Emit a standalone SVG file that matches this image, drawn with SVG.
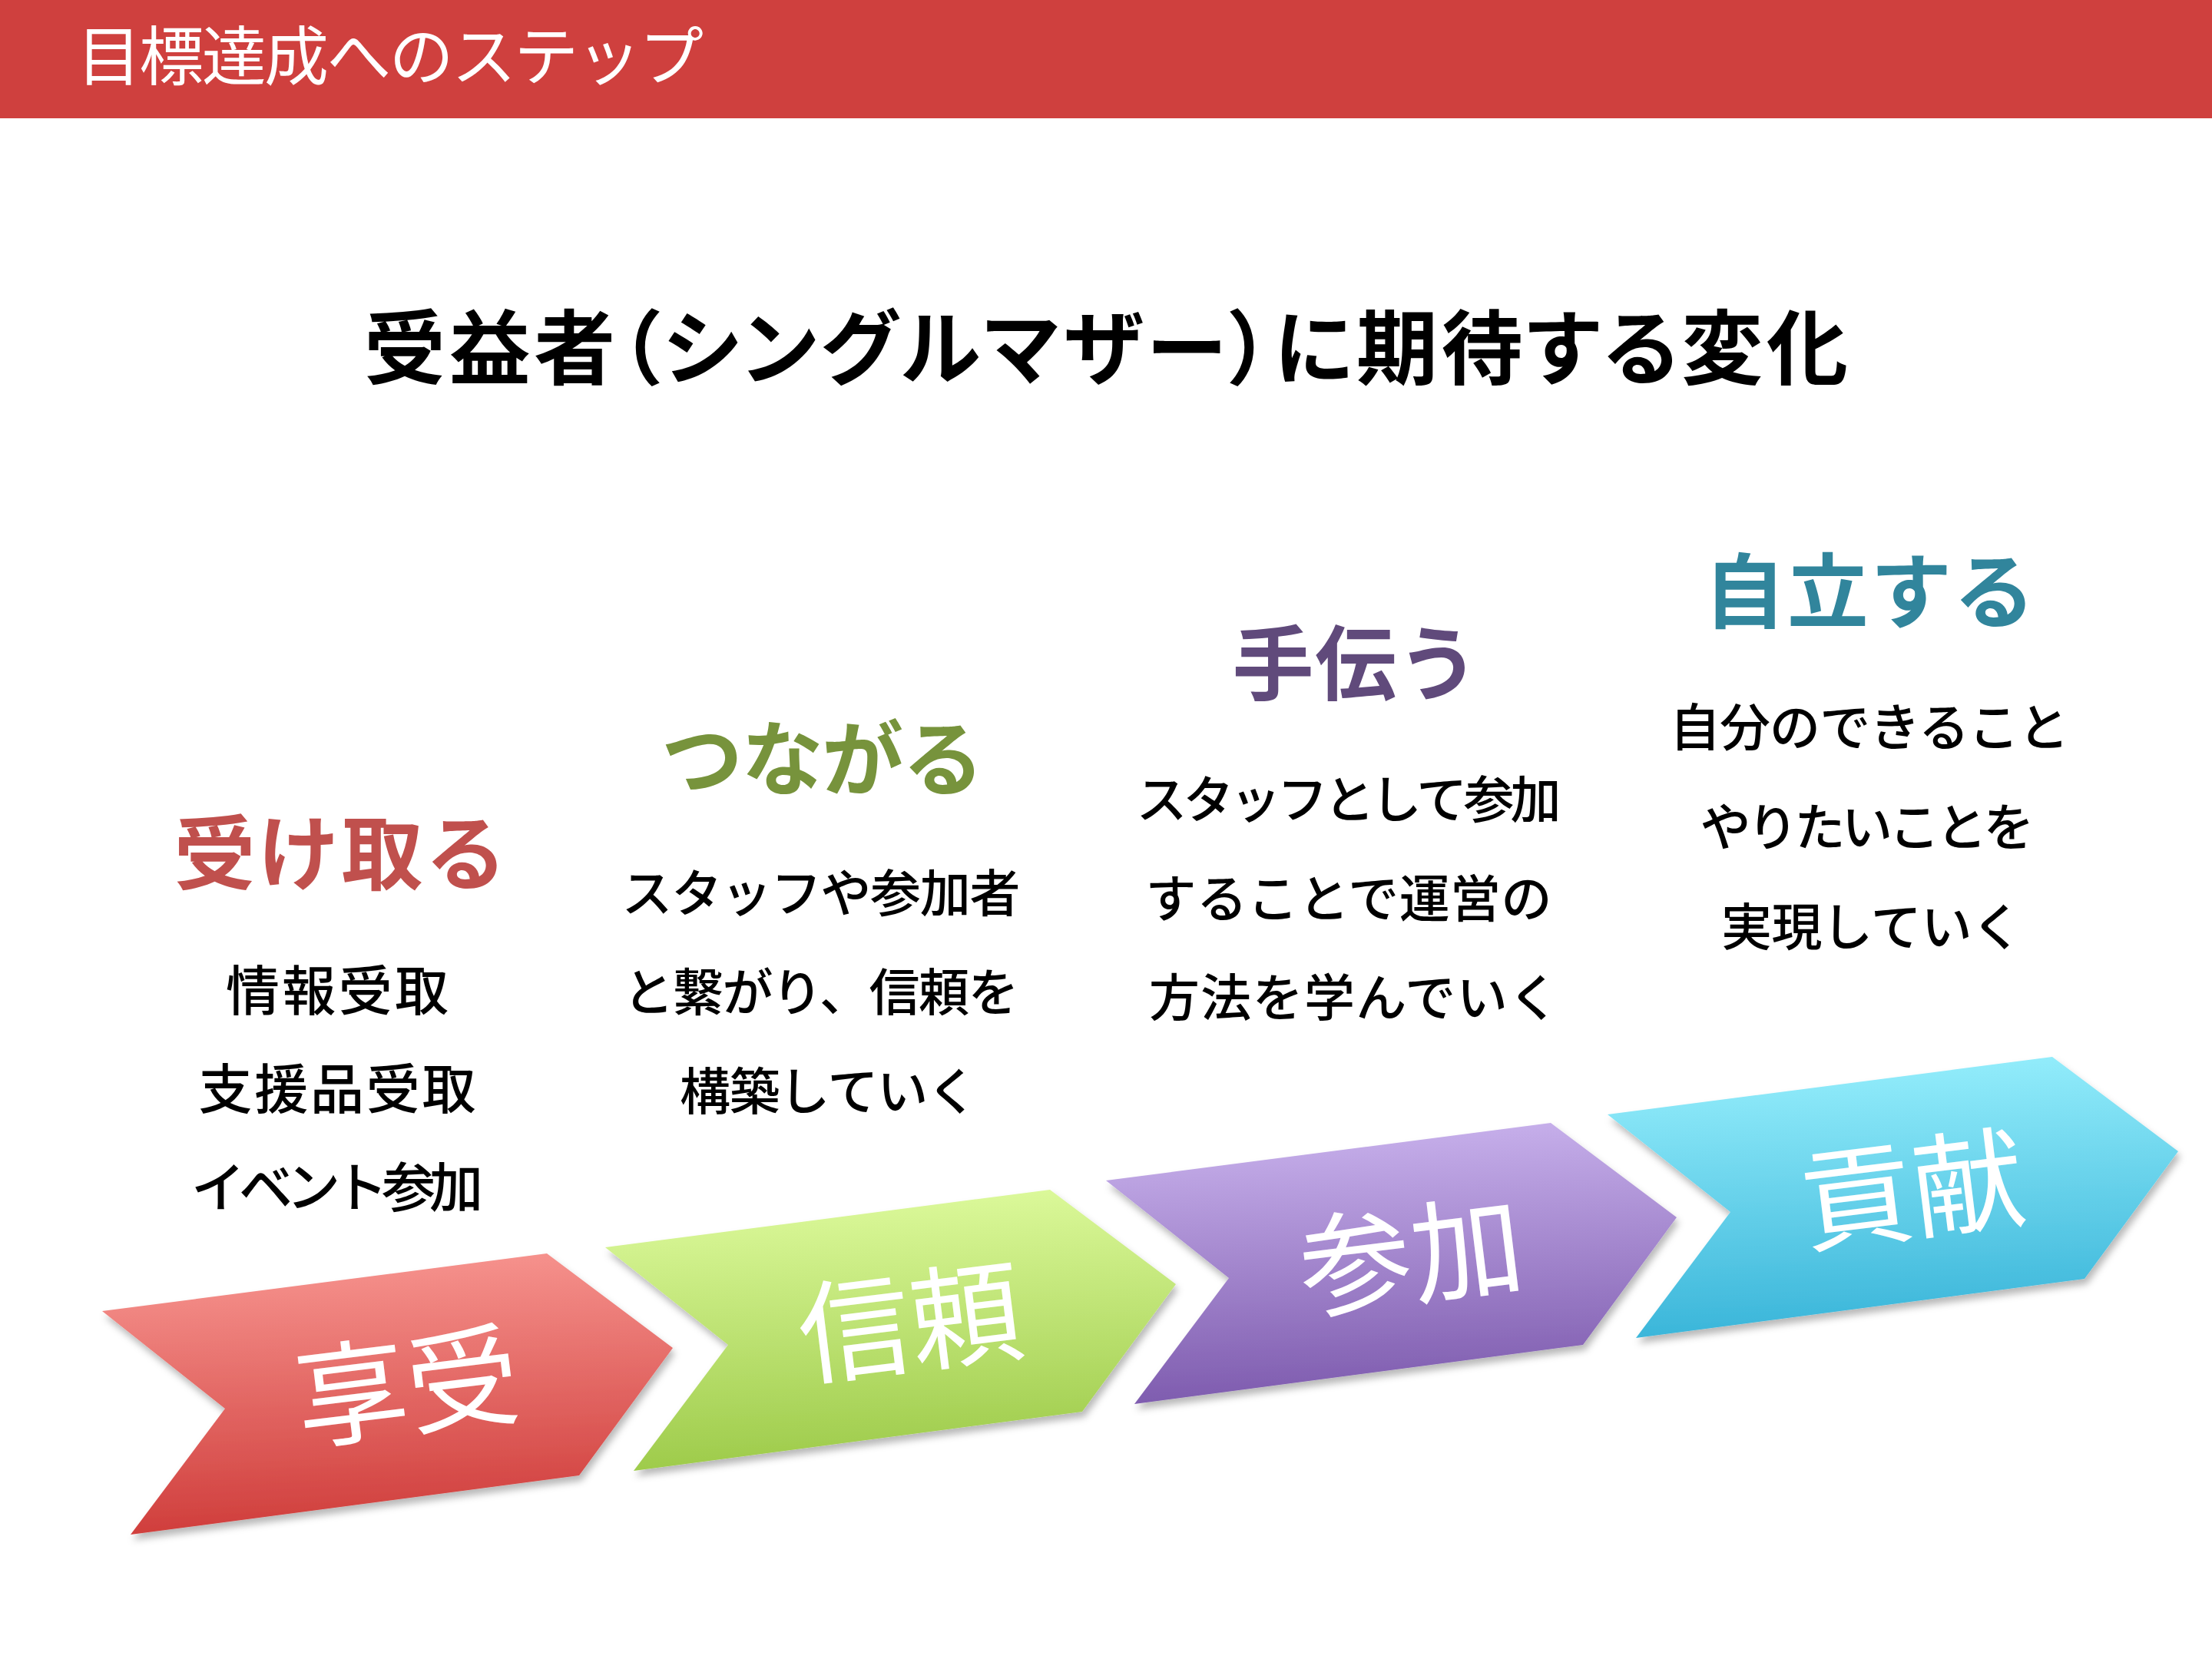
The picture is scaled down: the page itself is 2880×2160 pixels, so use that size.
<svg xmlns="http://www.w3.org/2000/svg" xmlns:xlink="http://www.w3.org/1999/xlink" width="2880" height="2160" viewBox="0 0 2880 2160">
<style>
  text { font-family: "Noto Sans CJK JP", "Noto Sans CJK SC", sans-serif; }
  .hdr { fill: #ffffff; font-size: 84px; font-weight: 400; }
  .title { fill: #000000; font-size: 106px; font-weight: 700; text-anchor: middle; font-feature-settings: "palt"; }
  .head { font-size: 106px; font-weight: 700; text-anchor: middle; }
  .body { fill: #000000; font-size: 66px; font-weight: 500; text-anchor: middle; }
  .body.k { font-size: 70px; }
  .chevtxt { fill: #ffffff; font-size: 146px; font-weight: 400; text-anchor: middle; }
</style>
<defs>
  <path id="chev" d="M0,0 L579,-75 L743,48 L621,214 L37,291 L160,127 Z"/>
  <filter id="shadow" x="-10%" y="-10%" width="120%" height="130%">
    <feDropShadow dx="3" dy="7" stdDeviation="5" flood-color="#000000" flood-opacity="0.28"/>
  </filter>
  <linearGradient id="gRed" x1="0.45" y1="0" x2="0.55" y2="1">
    <stop offset="0" stop-color="#F7948F"/>
    <stop offset="1" stop-color="#CE3A38"/>
  </linearGradient>
  <linearGradient id="gGreen" x1="0.45" y1="0" x2="0.55" y2="1">
    <stop offset="0" stop-color="#DDFA9C"/>
    <stop offset="1" stop-color="#9BC947"/>
  </linearGradient>
  <linearGradient id="gPurple" x1="0.45" y1="0" x2="0.55" y2="1">
    <stop offset="0" stop-color="#C8B1EC"/>
    <stop offset="1" stop-color="#7B58AC"/>
  </linearGradient>
  <linearGradient id="gCyan" x1="0.45" y1="0" x2="0.55" y2="1">
    <stop offset="0" stop-color="#95EEFC"/>
    <stop offset="1" stop-color="#36B3D8"/>
  </linearGradient>
</defs>
<rect x="0" y="0" width="2880" height="2160" fill="#ffffff"/>
<g id="header">
  <rect x="0" y="0" width="2880" height="154" fill="#CF403E"/>
  <text class="hdr" x="100" y="104" textLength="816" lengthAdjust="spacing">目標達成へのステップ</text>
</g>
<g id="title">
  <text class="title" x="1440" y="492" textLength="1932" lengthAdjust="spacing">受益者（シングルマザー）に期待する変化</text>
</g>
<g id="col-receive">
  <text class="head" x="443" y="1150" fill="#C0504D" textLength="433" lengthAdjust="spacing">受け取る</text>
  <text class="body k" x="439" y="1316" textLength="290" lengthAdjust="spacing">情報受取</text>
  <text class="body k" x="439" y="1444" textLength="361" lengthAdjust="spacing">支援品受取</text>
  <text class="body k" x="439" y="1572" textLength="380" lengthAdjust="spacing">イベント参加</text>
</g>
<g id="col-connect">
  <text class="head" x="1071" y="1027" fill="#77933C" textLength="420" lengthAdjust="spacing">つながる</text>
  <text class="body" x="1069" y="1187" textLength="519" lengthAdjust="spacing">スタッフや参加者</text>
  <text class="body" x="1069" y="1316" textLength="515" lengthAdjust="spacing">と繋がり、信頼を</text>
  <text class="body" x="1079" y="1445" textLength="388" lengthAdjust="spacing">構築していく</text>
</g>
<g id="col-help">
  <text class="head" x="1765" y="903" fill="#604A7B" textLength="321" lengthAdjust="spacing">手伝う</text>
  <text class="body" x="1756" y="1065" textLength="553" lengthAdjust="spacing">スタッフとして参加</text>
  <text class="body" x="1756" y="1194" textLength="529" lengthAdjust="spacing">することで運営の</text>
  <text class="body" x="1763" y="1323" textLength="534" lengthAdjust="spacing">方法を学んでいく</text>
</g>
<g id="col-independent">
  <text class="head" x="2434" y="809" fill="#31859C" textLength="431" lengthAdjust="spacing">自立する</text>
  <text class="body" x="2434" y="971" textLength="520" lengthAdjust="spacing">自分のできること</text>
  <text class="body" x="2431" y="1101" textLength="435" lengthAdjust="spacing">やりたいことを</text>
  <text class="body" x="2437" y="1231" textLength="392" lengthAdjust="spacing">実現していく</text>
</g>
<g id="step-kyoju" transform="translate(133,1707)">
  <use xlink:href="#chev" fill="url(#gRed)" filter="url(#shadow)"/>
  <text class="chevtxt" transform="translate(397,97) rotate(-7)" y="55">享受</text>
</g>
<g id="step-shinrai" transform="translate(788,1624)">
  <use xlink:href="#chev" fill="url(#gGreen)" filter="url(#shadow)"/>
  <text class="chevtxt" transform="translate(397,97) rotate(-7)" y="55">信頼</text>
</g>
<g id="step-sanka" transform="translate(1440,1537)">
  <use xlink:href="#chev" fill="url(#gPurple)" filter="url(#shadow)"/>
  <text class="chevtxt" transform="translate(397,97) rotate(-7)" y="55">参加</text>
</g>
<g id="step-kouken" transform="translate(2093,1451)">
  <use xlink:href="#chev" fill="url(#gCyan)" filter="url(#shadow)"/>
  <text class="chevtxt" transform="translate(397,97) rotate(-7)" y="55">貢献</text>
</g>
<g id="connectors"/>
</svg>
